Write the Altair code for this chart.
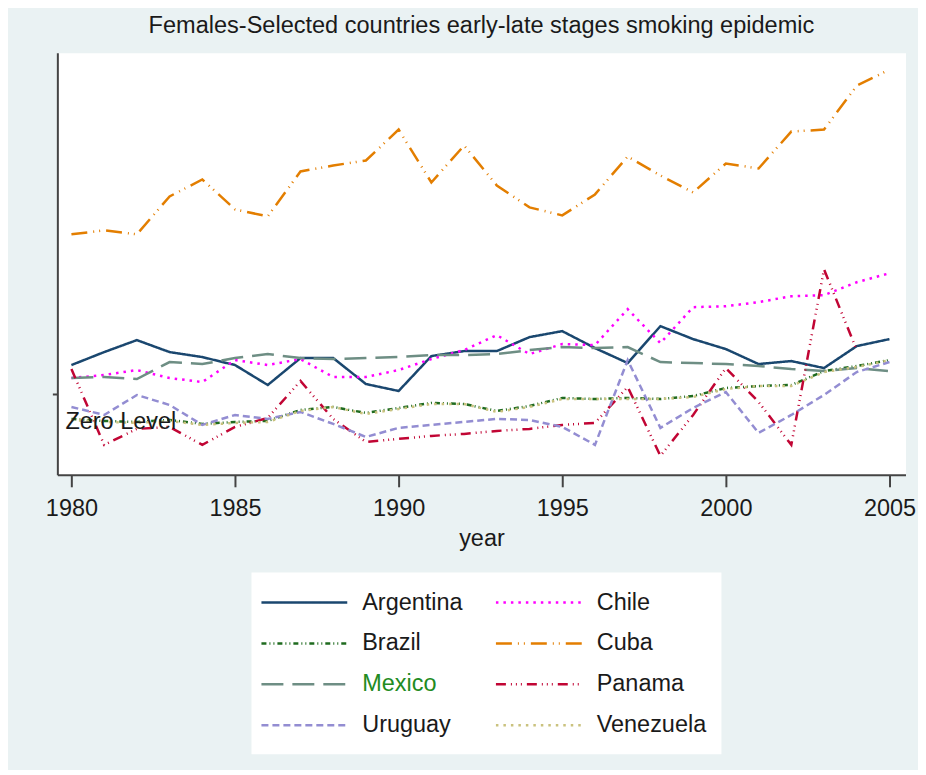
import altair as alt
import pandas as pd

years = list(range(1980, 2006))

argentina = [2.9, 4.2, 5.4, 4.2, 3.7, 2.9, 0.9, 3.6, 3.6, 1.0, 0.3, 3.8, 4.3, 4.3, 5.7, 6.3, 4.6, 3.1, 6.8, 5.5, 4.5, 3.0, 3.3, 2.6, 4.8, 5.5]
chile = [1.6, 1.9, 2.4, 1.6, 1.2, 3.4, 2.9, 3.5, 1.7, 1.7, 2.4, 3.5, 4.4, 5.9, 4.0, 5.0, 4.9, 8.5, 5.1, 8.7, 8.8, 9.2, 9.8, 9.9, 11.2, 12.1]
brazil = [-2.5, -2.7, -2.8, -2.6, -3.0, -2.8, -2.7, -1.6, -1.3, -1.9, -1.4, -0.9, -1.0, -1.7, -1.2, -0.4, -0.5, -0.4, -0.5, -0.2, 0.6, 0.8, 0.9, 2.3, 2.8, 3.4]
cuba = [16.0, 16.4, 16.0, 19.8, 21.5, 18.5, 17.8, 22.3, 22.9, 23.4, 26.5, 21.2, 24.9, 20.9, 18.7, 17.9, 20.0, 23.8, 21.9, 20.2, 23.1, 22.6, 26.3, 26.5, 30.9, 32.5]
mexico = [1.6, 1.7, 1.5, 3.2, 3.0, 3.6, 4.0, 3.6, 3.5, 3.6, 3.7, 3.9, 3.9, 4.0, 4.4, 4.7, 4.6, 4.7, 3.2, 3.1, 3.0, 2.8, 2.5, 2.3, 2.6, 2.3]
panama = [2.5, -5.1, -3.5, -3.3, -5.1, -3.3, -2.4, 1.3, -2.5, -4.8, -4.5, -4.2, -4.0, -3.7, -3.5, -3.1, -2.9, 0.7, -6.2, -2.1, 2.6, -0.8, -5.1, 12.5, 4.4, None]
uruguay = [-1.3, -2.1, -0.1, -1.1, -3.1, -2.1, -2.5, -1.8, -3.0, -4.3, -3.4, -3.1, -2.8, -2.5, -2.6, -3.3, -5.1, 3.4, -3.4, -1.4, 0.2, -3.9, -2.1, -0.1, 2.2, 3.2]
venezuela = [-2.6, -2.8, -2.9, -2.7, -3.1, -2.9, -2.8, -1.7, -1.3, -2.0, -1.5, -1.0, -1.0, -1.8, -1.3, -0.5, -0.5, -0.5, -0.5, -0.3, 0.5, 0.8, 0.8, 2.2, 2.7, 3.4]

countries = ["Argentina", "Chile", "Brazil", "Cuba", "Mexico", "Panama", "Uruguay", "Venezuela"]
series = [argentina, chile, brazil, cuba, mexico, panama, uruguay, venezuela]
colors = ["#1a476f", "#ff00ff", "#1f6b1f", "#e37e00", "#6e8e84", "#c10534", "#938dd2", "#cac27e"]
dashes = [[1, 0], [2.5, 5], [5, 3, 1, 3, 1, 3], [16, 6, 1, 5, 1, 6], [22, 9], [10, 5, 1, 4, 1, 4, 1, 5], [7, 4], [2.5, 5]]

x_ticks = [1980, 1985, 1990, 1995, 2000, 2005]
title_text = "Females-Selected countries early-late stages smoking epidemic"
note_text = "Zero Level"
note_year = 1980
note_value = -2.8

rows = []
for c, vals in zip(countries, series):
    for yr, v in zip(years, vals):
        if v is not None:
            rows.append({"year": yr, "country": c, "value": v})
df = pd.DataFrame(rows)

FONT = "Liberation Sans, Arial, sans-serif"
TXT = "#1a1a1a"

color_scale = alt.Scale(domain=countries, range=colors)
dash_scale = alt.Scale(domain=countries, range=dashes)

lines = alt.Chart(df).mark_line(strokeWidth=2.5).encode(
    x=alt.X("year:Q",
            scale=alt.Scale(domain=[1979.57, 2005.49], nice=False, zero=False),
            axis=alt.Axis(values=x_ticks, format="d", title="year", grid=False,
                          tickSize=12, labelPadding=10, titlePadding=6)),
    y=alt.Y("value:Q",
            scale=alt.Scale(domain=[-8.1, 34.2], nice=False, zero=False),
            axis=alt.Axis(values=[0], labels=False, title=None, grid=False, tickSize=5)),
    color=alt.Color("country:N", scale=color_scale, legend=None),
    strokeDash=alt.StrokeDash("country:N", scale=dash_scale, legend=None),
)

note = alt.Chart(pd.DataFrame({"year": [note_year], "value": [note_value], "label": [note_text]})).mark_text(
    align="left", baseline="middle", dx=-6, fontSize=23.5, font=FONT, color=TXT
).encode(x="year:Q", y="value:Q", text="label:N")

main = alt.layer(lines, note).properties(
    width=850, height=423,
    title=alt.TitleParams(title_text, font=FONT, fontSize=23.6, fontWeight="normal",
                          color=TXT, offset=15, anchor="middle"),
)

leg_df = pd.DataFrame({
    "country": countries,
    "row": [i // 2 for i in range(len(countries))],
    "col": [i % 2 for i in range(len(countries))],
})
LW, LH = 471, 182
lbase = alt.Chart(leg_df).transform_calculate(
    sx="10 + datum.col * 235", ex="96 + datum.col * 235",
    lx="111 + datum.col * 235", ly="30 + datum.row * 41",
)
lx_scale = alt.Scale(domain=[0, LW], nice=False, zero=False)
ly_scale = alt.Scale(domain=[0, LH], nice=False, zero=False, reverse=True)
lrules = lbase.mark_rule(strokeWidth=2.5).encode(
    x=alt.X("sx:Q", scale=lx_scale, axis=None), x2="ex:Q",
    y=alt.Y("ly:Q", scale=ly_scale, axis=None),
    color=alt.Color("country:N", scale=color_scale, legend=None),
    strokeDash=alt.StrokeDash("country:N", scale=dash_scale, legend=None),
)
ltext = lbase.mark_text(align="left", baseline="middle", fontSize=23.5, font=FONT).encode(
    x=alt.X("lx:Q", scale=lx_scale, axis=None),
    y=alt.Y("ly:Q", scale=ly_scale, axis=None),
    text="country:N",
    color=alt.condition("datum.country == 'Mexico'", alt.value("#228B22"), alt.value(TXT)),
)
legend = alt.layer(lrules, ltext).properties(
    width=LW, height=LH,
    view=alt.ViewBackground(fill="white", stroke="#444", strokeWidth=2),
)

chart = alt.vconcat(main, legend, spacing=23, center=True).resolve_scale(
    x="independent", y="independent"
).properties(
    padding={"left": 37, "top": 5, "right": 2, "bottom": 15},
    background="#eaf2f3",
).configure_view(fill="white", strokeOpacity=0).configure_axis(
    domainColor="#444", domainWidth=2, tickColor="#444", tickWidth=2,
    labelFont=FONT, labelFontSize=23.5, labelColor=TXT,
    titleFont=FONT, titleFontSize=23.5, titleFontWeight="normal", titleColor=TXT,
).configure_concat(spacing=23)

chart.save("out.html", embed_options={"renderer": "svg", "actions": False})
